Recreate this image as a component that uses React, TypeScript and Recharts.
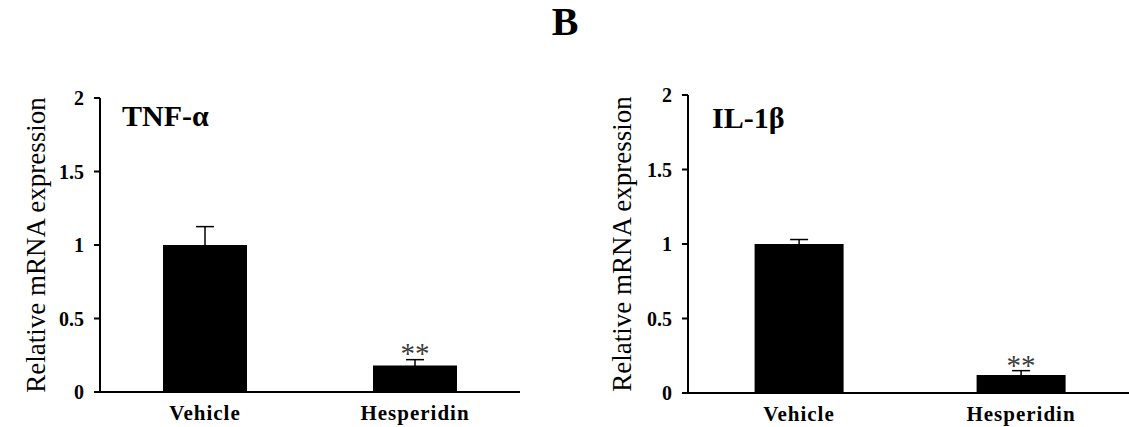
import React from 'react';
import { BarChart, Bar, XAxis, YAxis, ErrorBar, LabelList } from 'recharts';

const categories = ['Vehicle', 'Hesperidin'];
const tnfMeans = [1.0, 0.18];
const tnfErrors = [0.125, 0.04];
const il1bMeans = [1.0, 0.12];
const il1bErrors = [0.03, 0.03];
const significance = ['', '**'];
const yTicks = [0, 0.5, 1, 1.5, 2];
const boundaryTicks = [0, 1, 2];
const panelTitles = ['TNF-α', 'IL-1β'];
const yAxisTitle = 'Relative mRNA expression';
const figureLabel = 'B';

const FONT = '"Liberation Serif", "Times New Roman", serif';

type PanelProps = {
  title: string;
  means: number[];
  errors: number[];
  left: number;
  width: number;
  top: number;
  axisHeight: number;
  titleX: number;
  titleY: number;
  yLabelX: number;
  starGap: number;
};

function Panel(p: PanelProps) {
  const data = categories.map((c, i) => ({
    name: c,
    value: p.means[i],
    err: p.errors[i],
    sig: significance[i],
  }));
  const height = 427;
  const plotBottom = height - p.axisHeight;
  const yCenter = (p.top + plotBottom) / 2;

  const renderStars = (props: any) => {
    const { x, y, width, height: h, index, value } = props;
    if (!value) return null;
    const m = p.means[index];
    const pxPerUnit = Math.abs(h) / m;
    const barTop = Math.min(y, y + h);
    const errTop = barTop - p.errors[index] * pxPerUnit;
    return (
      <text
        x={x + width / 2}
        y={errTop + p.starGap}
        textAnchor="middle"
        fontFamily={FONT}
        fontSize={29}
        fill="#3a3a3a"
      >
        {value}
      </text>
    );
  };

  return (
    <div style={{ position: 'absolute', left: p.left, top: 0 }}>
      <BarChart
        width={p.width}
        height={height}
        data={data}
        margin={{ top: p.top, right: 0, left: 0, bottom: 0 }}
        barCategoryGap="30%"
      >
        <XAxis
          xAxisId={0}
          type="number"
          domain={[0, 2]}
          ticks={boundaryTicks}
          height={0}
          tick={false}
          axisLine={false}
          tickLine={{ stroke: '#000', strokeWidth: 2 }}
          tickSize={6}
          allowDataOverflow
        />
        <XAxis
          xAxisId={1}
          dataKey="name"
          type="category"
          height={p.axisHeight}
          axisLine={{ stroke: '#000', strokeWidth: 2 }}
          tickLine={false}
          tickSize={6}
          tickMargin={7}
          tick={{ fill: '#000', fontFamily: FONT, fontSize: 21, fontWeight: 'bold', letterSpacing: 1 }}
          interval={0}
        />
        <YAxis
          domain={[0, 2]}
          ticks={yTicks}
          width={100}
          axisLine={{ stroke: '#000', strokeWidth: 2 }}
          tickLine={{ stroke: '#000', strokeWidth: 2 }}
          tickSize={6}
          tickMargin={10}
          tick={{ fill: '#000', fontFamily: FONT, fontSize: 20, fontWeight: 'bold' }}
          allowDataOverflow
        />
        <Bar dataKey="value" xAxisId={1} fill="#000" isAnimationActive={false}>
          <ErrorBar dataKey="err" direction="y" width={9} stroke="#000" strokeWidth={1.5} />
          <LabelList dataKey="sig" content={renderStars} />
        </Bar>
        <text
          x={p.titleX}
          y={p.titleY}
          fontFamily={FONT}
          fontSize={30}
          fontWeight="bold"
          fill="#000"
        >
          {p.title}
        </text>
        <text
          x={p.yLabelX}
          y={yCenter}
          transform={`rotate(-90 ${p.yLabelX} ${yCenter})`}
          textAnchor="middle"
          dominantBaseline="central"
          fontFamily={FONT}
          fontSize={27}
          fill="#000"
        >
          {yAxisTitle}
        </text>
      </BarChart>
    </div>
  );
}

export default function App() {
  return (
    <div
      style={{
        position: 'absolute',
        left: 0,
        top: 0,
        width: 1129,
        height: 427,
        overflow: 'hidden',
        background: '#fff',
      }}
    >
      <svg width={1129} height={50} style={{ position: 'absolute', left: 0, top: 0 }}>
        <text
          x={565}
          y={35}
          textAnchor="middle"
          fontFamily={FONT}
          fontSize={40}
          fontWeight="bold"
          fill="#000"
        >
          {figureLabel}
        </text>
      </svg>
      <Panel
        title={panelTitles[0]}
        means={tnfMeans}
        errors={tnfErrors}
        left={0}
        width={520}
        top={98}
        axisHeight={35}
        titleX={122}
        titleY={126}
        yLabelX={36}
        starGap={3}
      />
      <Panel
        title={panelTitles[1]}
        means={il1bMeans}
        errors={il1bErrors}
        left={588}
        width={544}
        top={95}
        axisHeight={34}
        titleX={124}
        titleY={128}
        yLabelX={34}
        starGap={4}
      />
    </div>
  );
}
